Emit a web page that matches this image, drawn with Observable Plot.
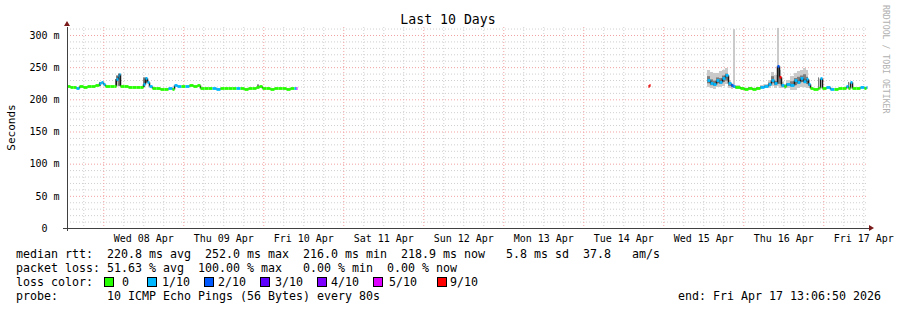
<!DOCTYPE html>
<html><head><meta charset="utf-8">
<script src="https://cdn.jsdelivr.net/npm/d3@7"></script>
<script src="https://cdn.jsdelivr.net/npm/@observablehq/plot@0.6"></script>
<style>
html,body{margin:0;padding:0;background:#fff;}
#wrap{position:relative;width:897px;height:310px;overflow:hidden;background:#fff;}
#wrap svg{position:absolute;left:0;top:0;}
.pre{white-space:pre;}
</style></head><body><div id="wrap"></div>
<script>
// ---- time window ----
const startTime = new Date(2026, 3, 7, 13, 6, 50);
const endTime = new Date(2026, 3, 17, 13, 6, 50);

// ---- median RTT (hours since start, ms, lost pings of 10); null = gap ----
const medHours = [0,0.9,1.8,2.7,3.6,4.8,6.0,7.2,8.4,9.6,10.2,10.8,11.4,12.9,14.1,14.7,15.3,15.6,15.9,17.1,18.3,19.5,20.7,21.9,22.8,23.4,24.0,24.6,25.5,26.7,27.9,29.1,30.3,31.5,32.1,33.0,34.2,35.4,36.6,37.8,39.0,39.9,41.1,42.3,43.5,44.7,45.9,47.1,48.3,49.5,50.7,51.9,53.1,54.3,55.5,56.7,57.6,58.5,59.7,60.9,62.1,63.3,64.5,65.7,66.9,68.1,68.7,69.0,
  174.3,174.6,174.9,
  192.0,192.9,193.8,194.7,195.6,196.5,197.4,198.3,199.2,199.8,200.4,201.9,203.1,204.3,205.5,206.7,207.9,209.1,210.3,211.2,212.1,213.0,213.6,214.2,215.1,215.7,216.9,218.1,219.0,219.9,220.8,221.7,222.3,222.9,223.8,225.3,225.9,226.5,227.7,228.9,230.1,231.3,232.5,233.7,234.3,234.9,235.5,236.7,237.9,239.1,239.7,240.0];
const medMs = [220.7,219.2,219.2,217.6,220.7,219.2,220.7,220.7,222.3,225.4,227.0,223.8,220.7,220.7,220.7,231.6,236.3,239.4,220.7,220.7,219.2,219.2,219.2,219.2,223.8,233.2,227.0,220.7,217.6,217.6,216.1,216.1,217.6,216.1,222.3,220.7,220.7,220.7,222.3,220.7,222.3,217.6,217.6,217.6,217.6,216.1,217.6,217.6,217.6,217.6,217.6,217.6,216.1,217.6,217.6,219.2,220.7,217.6,217.6,216.1,217.6,217.6,217.6,216.1,217.6,217.6,217.6,null,
  220.7,222.3,null,
  230.0,225.4,223.8,230.0,227.0,233.2,238.0,225.4,222.3,220.7,219.2,217.6,216.1,217.6,216.1,217.6,219.2,220.7,223.8,230.0,225.4,252.0,235.0,222.3,220.7,223.8,222.3,230.0,227.0,233.2,228.0,232.0,224.0,217.6,216.1,218.0,233.0,217.6,219.2,216.1,216.1,217.6,217.6,220.7,217.6,227.0,217.6,217.6,219.2,217.6,219.2,null];
const medLoss = [0,0,0,1,0,0,0,0,0,1,1,1,0,0,0,1,1,1,0,0,0,0,0,0,1,1,1,1,0,0,0,0,1,0,1,1,0,1,0,0,0,0,0,0,1,1,0,0,0,0,1,0,0,0,0,0,0,0,0,0,0,0,0,0,0,1,5,0,
  9,9,0,
  1,1,1,1,1,1,1,1,2,1,0,0,0,0,0,0,1,1,1,1,1,2,9,1,0,1,1,1,1,1,1,1,1,0,0,0,1,0,1,1,0,0,0,1,0,1,0,0,1,0,1,0];

// ---- smoke (ping spread): hours, outer lo/hi, core lo/hi (ms); null = end ----
const smokeHours = [9.6,10.2,14.4,14.7,15.3,15.9,22.8,23.4,24.0,57.0,57.6,
  192.0,192.9,193.8,194.7,195.6,196.5,197.4,198.3,199.2,199.8,200.4,201.9,203.1,204.3,205.5,206.7,207.9,209.1,210.3,211.2,212.1,213.0,213.6,214.2,215.1,215.7,216.9,218.1,219.0,219.9,220.8,221.7,222.3,222.9,
  225.3,225.6,234.3,234.6];
const smokeLo = [220.7,null,219.2,228.0,221.0,null,219.2,226.0,null,219.2,null,
  219.2,217.6,216.1,219.2,219.2,220.7,223.8,217.6,216.1,217.6,216.1,216.1,214.5,216.1,214.5,216.1,217.6,217.6,217.6,220.7,217.6,220.7,217.6,217.6,216.1,217.6,214.5,214.5,217.6,219.2,219.2,217.6,217.6,null,
  217.6,null,217.6,null];
const smokeHi = [227.0,null,231.6,237.0,240.0,null,234.0,234.0,null,223.0,null,
  245.6,242.5,241.0,241.0,244.0,245.6,248.7,230.0,224.0,309.0,222.3,219.2,218.0,219.2,218.0,219.2,222.3,223.8,230.0,242.5,237.8,311.0,245.6,227.0,223.8,230.0,236.3,241.0,244.0,245.6,248.7,245.6,230.0,null,
  234.0,null,227.0,null];
const coreLo = [220.7,null,219.2,228.0,221.0,null,219.2,226.0,null,219.2,null,
  225,222,221,225,224,227,229,221,219,218,218,217,215.5,217,215.5,217,218.5,219,221,226,222,224,224,220,219,221,220,222,224,227,226,224,221,null,
  217.6,null,217.6,null];
const coreHi = [227.0,null,231.6,237.0,240.0,null,234.0,234.0,null,223.0,null,
  236,231,229,234,233,237,240,226,222,221,220,219,217,218.5,217,218.5,220.5,221.5,226,236,228,250,236,223,221,225,228,233,235,237,239,235,225,null,
  234.0,null,227.0,null];

// ---- loss colours ----
const lossLevels = [0,1,2,3,4,5,9];
const lossLabels = ["0","1/10","2/10","3/10","4/10","5/10","9/10"];
const lossColors = ["#26ff00","#00b8ff","#0059ff","#5e00ff","#7e00ff","#dd00ff","#ff0000"];

// ---- tick labels ----
const yTicks = [0,50,100,150,200,250,300];
const dayLabels = ["Wed 08 Apr","Thu 09 Apr","Fri 10 Apr","Sat 11 Apr","Sun 12 Apr","Mon 13 Apr","Tue 14 Apr","Wed 15 Apr","Thu 16 Apr","Fri 17 Apr"];

// ---- legend text ----
const title = "Last 10 Days";
const yLabel = "Seconds";
const watermark = "RRDTOOL / TOBI OETIKER";
const rttLine = "median rtt:  220.8 ms avg  252.0 ms max  216.0 ms min  218.9 ms now   5.8 ms sd  37.8   am/s";
const lossLine = "packet loss: 51.63 % avg  100.00 % max   0.00 % min  0.00 % now";
const lossColorLabel = "loss color:";
const probeLine = "probe:       10 ICMP Echo Pings (56 Bytes) every 80s";
const endText = "end: Fri Apr 17 13:06:50 2026";

// ---- build tables ----
const toDate = h => new Date(+startTime + h * 3600e3);
const med = medHours.map((h, i) => ({
  t: toDate(h),
  t2: i + 1 < medHours.length ? toDate(medHours[i + 1]) : null,
  v: medMs[i], prev: i > 0 ? medMs[i - 1] : null, loss: medLoss[i]
}));
const medSeg = med.filter(d => d.v != null && d.t2);
const medVert = med.filter(d => d.v != null && d.prev != null);
const smoke = smokeHours.map((h, i) => ({
  t: toDate(h), t2: i + 1 < smokeHours.length ? toDate(smokeHours[i + 1]) : null,
  lo: smokeLo[i], hi: smokeHi[i], clo: coreLo[i], chi: coreHi[i]
})).filter(d => d.lo != null && d.t2);

const midnights = d3.timeDay.range(startTime, endTime);
const sixHours = d3.timeHour.every(6).range(startTime, endTime).filter(d => d.getHours() !== 0);
const noons = midnights.map(d => d3.timeHour.offset(d, 12));
const yMinor = d3.range(10, 320, 10).filter(v => v % 50 !== 0);
const yMajor = d3.range(50, 301, 50);

const FONT = "DejaVu Sans Mono";
const minorC = "#cfcfcf", majorC = "#f2a0a0";

const plot = Plot.plot({
  width: 897, height: 245,
  marginLeft: 67, marginRight: 30, marginTop: 27, marginBottom: 17,
  x: {type: "time", domain: [startTime, endTime]},
  y: {domain: [0, 312.4]},
  color: {type: "ordinal", domain: lossLevels, range: lossColors},
  style: {fontFamily: FONT, fontSize: "10px", color: "#000", background: "transparent", overflow: "visible"},
  marks: [
    Plot.ruleY(yMinor, {stroke: minorC, strokeDasharray: "1,2"}),
    Plot.ruleX(sixHours, {stroke: minorC, strokeDasharray: "1,2"}),
    Plot.ruleY(yMajor, {stroke: majorC, strokeDasharray: "1,2"}),
    Plot.ruleX(midnights, {stroke: majorC, strokeDasharray: "1,2"}),
    Plot.rect(smoke, {x1: "t", x2: "t2", y1: "lo", y2: "hi", fill: "#cacaca", inset: 0}),
    Plot.rect(smoke, {x1: "t", x2: "t2", y1: "clo", y2: "chi", fill: "#7c7c7c", inset: 0}),
    Plot.link(medVert, {x1: "t", x2: "t", y1: "prev", y2: "v", stroke: "#1a1a1a", strokeWidth: 1.5}),
    Plot.link(medSeg, {x1: "t", x2: "t2", y1: "v", y2: "v", stroke: "loss", strokeWidth: 2.8}),
    Plot.axisY({ticks: yTicks, tickFormat: d => d === 0 ? "0\u00a0\u00a0" : `${d} m`, tickSize: 0, tickPadding: 8, fontSize: 10}),
    Plot.axisX({ticks: noons, tickFormat: (d, i) => dayLabels[i], tickSize: 0, tickPadding: 6, fontSize: 10}),
    Plot.ruleX([startTime], {stroke: "#404040", insetBottom: -3}),
    Plot.ruleY([0], {stroke: "#404040", insetLeft: -4, insetRight: -2})
  ]
});
const wrap = document.getElementById("wrap");
wrap.appendChild(plot);

// ---- overlay: title, labels, arrows, legend ----
const xr = plot.scale("x").range, yr = plot.scale("y").range;
const x0 = xr[0], x1 = xr[1], yb = yr[0], yt = yr[1];
const ov = d3.select(wrap).append("svg").attr("width", 897).attr("height", 310)
  .style("font-family", FONT).style("pointer-events", "none");
const arrowC = "#7a1a1a";
ov.append("path").attr("d", `M${x0 - 3},${yt - 1}L${x0 + 3},${yt - 1}L${x0},${yt - 6}Z`).attr("fill", arrowC);
ov.append("path").attr("d", `M${x1 + 2},${yb - 3}L${x1 + 2},${yb + 3}L${x1 + 7},${yb}Z`).attr("fill", arrowC);

ov.append("text").attr("x", 448).attr("y", 24).attr("text-anchor", "middle")
  .attr("font-size", 13.2).text(title);
ov.append("text").attr("transform", `translate(15,${(yt + yb) / 2}) rotate(-90)`)
  .attr("text-anchor", "middle").attr("font-size", 11).text(yLabel);
ov.append("text").attr("transform", "translate(883,5) rotate(90)")
  .attr("font-size", 8.2).attr("fill", "#b0b0b0").text(watermark);

const lg = ov.append("g").attr("font-size", 11.63).attr("fill", "#000");
const base = [257.5, 271.8, 286, 300.2];
const line = (txt, y, x = 16, anchor = "start") =>
  lg.append("text").attr("class", "pre").attr("xml:space", "preserve")
    .attr("x", x).attr("y", y).attr("text-anchor", anchor).text(txt);
line(rttLine, base[0]);
line(lossLine, base[1]);
line(lossColorLabel, base[2]);
const boxX = [104, 147, 204, 260, 317, 373, 437];
const labX = [122, 162, 218, 275, 331, 389, 450];
lossLevels.forEach((lv, i) => {
  lg.append("rect").attr("x", boxX[i] + 0.5).attr("y", base[2] - 8.5).attr("width", 9).attr("height", 9)
    .attr("fill", lossColors[i]).attr("stroke", "#000").attr("stroke-width", 1);
  lg.append("text").attr("x", labX[i]).attr("y", base[2]).text(lossLabels[i]);
});
line(probeLine, base[3]);
line(endText, base[3], 881, "end");
</script></body></html>
